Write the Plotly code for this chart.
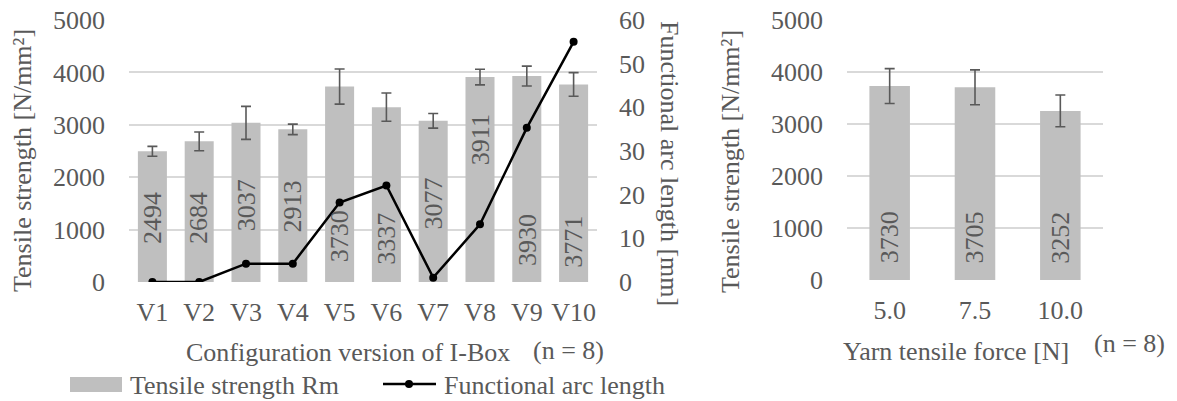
import plotly.graph_objects as go

# ---------------- data ----------------
versions = ["V1", "V2", "V3", "V4", "V5", "V6", "V7", "V8", "V9", "V10"]
strength = [2494, 2684, 3037, 2913, 3730, 3337, 3077, 3911, 3930, 3771]
strength_sd = [95, 180, 315, 100, 335, 270, 140, 150, 190, 225]
arc_length = [0, 0, 4.2, 4.2, 18.2, 22.1, 1.0, 13.2, 35.3, 55.0]

force_labels = ["5.0", "7.5", "10.0"]
force_strength = [3730, 3705, 3252]
force_sd = [335, 335, 305]

# ---------------- style ----------------
W, H = 1177, 401
FONT = "Liberation Serif, Times New Roman, serif"
TXT = "#595959"
BAR = "#BFBFBF"
GRID = "#D9D9D9"
FS = 26

# label centre heights (axis units) for the rotated value labels
left_label_pos = [1227, 1227, 1465, 1437, 864, 835, 1504, 2707, 797, 759]
right_label_pos = [817, 817, 817]


def px(x):
    return x / W


def py(y):
    return 1 - y / H


force_idx = list(range(len(force_labels)))

fig = go.Figure()

fig.add_trace(go.Bar(
    x=versions, y=strength, width=0.62, marker=dict(color=BAR, line=dict(width=0)),
    error_y=dict(type="data", array=strength_sd, color=TXT, thickness=1.6, width=5),
    xaxis="x", yaxis="y", showlegend=False, name="Tensile strength Rm"))

fig.add_trace(go.Scatter(
    x=versions, y=arc_length, mode="lines+markers",
    line=dict(color="black", width=2.5), marker=dict(color="black", size=8),
    xaxis="x", yaxis="y2", showlegend=False, name="Functional arc length"))

fig.add_trace(go.Bar(
    x=force_idx, y=force_strength, width=0.475, marker=dict(color=BAR, line=dict(width=0)),
    error_y=dict(type="data", array=force_sd, color=TXT, thickness=1.6, width=5),
    xaxis="x3", yaxis="y3", showlegend=False))

tickfont = dict(family=FONT, size=FS, color=TXT)

fig.update_layout(
    template="none",
    width=W, height=H,
    margin=dict(l=0, r=0, t=0, b=0, pad=0),
    paper_bgcolor="white", plot_bgcolor="rgba(0,0,0,0)",
    font=dict(family=FONT, size=FS, color=TXT),
    xaxis=dict(domain=[px(129), px(597)], anchor="y", type="category", automargin=False,
               range=[-0.5, 9.5],
               showgrid=False, zeroline=False, showline=False, ticks="",
               tickfont=tickfont, ticklabelstandoff=12),
    yaxis=dict(domain=[py(282), py(20)], anchor="x", range=[0, 5000], dtick=1000,
               automargin=False,
               showgrid=True, gridcolor=GRID, gridwidth=1.5, zeroline=False,
               showline=False, ticks="", tickfont=tickfont, ticklabelstandoff=23),
    yaxis2=dict(overlaying="y", side="right", anchor="x", range=[0, 60], dtick=10,
                automargin=False,
                showgrid=False, zeroline=False, showline=False, ticks="",
                tickfont=tickfont, ticklabelstandoff=21),
    xaxis3=dict(domain=[px(847), px(1103)], anchor="y3", type="linear", automargin=False,
                range=[-0.5, 2.5], tickvals=force_idx, ticktext=force_labels,
                showgrid=False, zeroline=False, showline=False, ticks="",
                tickfont=tickfont, ticklabelstandoff=12),
    yaxis3=dict(domain=[py(280), py(20)], anchor="x3", range=[0, 5000], dtick=1000,
                automargin=False,
                showgrid=True, gridcolor=GRID, gridwidth=1.5, zeroline=False,
                showline=False, ticks="", tickfont=tickfont, ticklabelstandoff=23),
)

ann = []
# value labels inside bars
for v, s, p in zip(versions, strength, left_label_pos):
    ann.append(dict(x=v, y=p, xref="x", yref="y", text=str(s), textangle=-90,
                    showarrow=False, font=dict(family=FONT, size=FS, color=TXT)))
for i, s, p in zip(force_idx, force_strength, right_label_pos):
    ann.append(dict(x=i, y=p, xref="x3", yref="y3", text=str(s), textangle=-90,
                    showarrow=False, font=dict(family=FONT, size=FS, color=TXT)))


def label(text, x, y, angle=0, xanchor="center"):
    ann.append(dict(x=px(x), y=py(y), xref="paper", yref="paper", text=text,
                    textangle=angle, showarrow=False, xanchor=xanchor, yanchor="middle",
                    font=dict(family=FONT, size=FS, color=TXT)))


label("Tensile strength [N/mm²]", 22, 161, -90)
label("Functional arc length [mm]", 670, 163, 90)
label("Tensile strength [N/mm²]", 731, 162, -90)
label("Configuration version of I-Box", 348, 352)
label("(n = 8)", 568, 350)
label("Yarn tensile force [N]", 956, 351)
label("(n = 8)", 1129, 343)
label("Tensile strength Rm", 128, 385, xanchor="left")
label("Functional arc length", 442, 385, xanchor="left")

fig.update_layout(annotations=ann)

# legend symbols (drawn manually to mimic the reference legend)
fig.add_shape(type="rect", xref="paper", yref="paper",
              x0=px(70), x1=px(122), y0=py(392), y1=py(377),
              fillcolor=BAR, line=dict(width=0))
fig.add_shape(type="line", xref="paper", yref="paper",
              x0=px(383), x1=px(436), y0=py(384), y1=py(384),
              line=dict(color="black", width=2.5))
fig.add_shape(type="circle", xref="paper", yref="paper",
              x0=px(405), x1=px(413), y0=py(388), y1=py(380),
              fillcolor="black", line=dict(width=0))

fig.write_html(
    "out.html",
    config={"displayModeBar": False},
    post_script="document.body.style.margin='0';document.body.style.overflow='hidden';",
)
